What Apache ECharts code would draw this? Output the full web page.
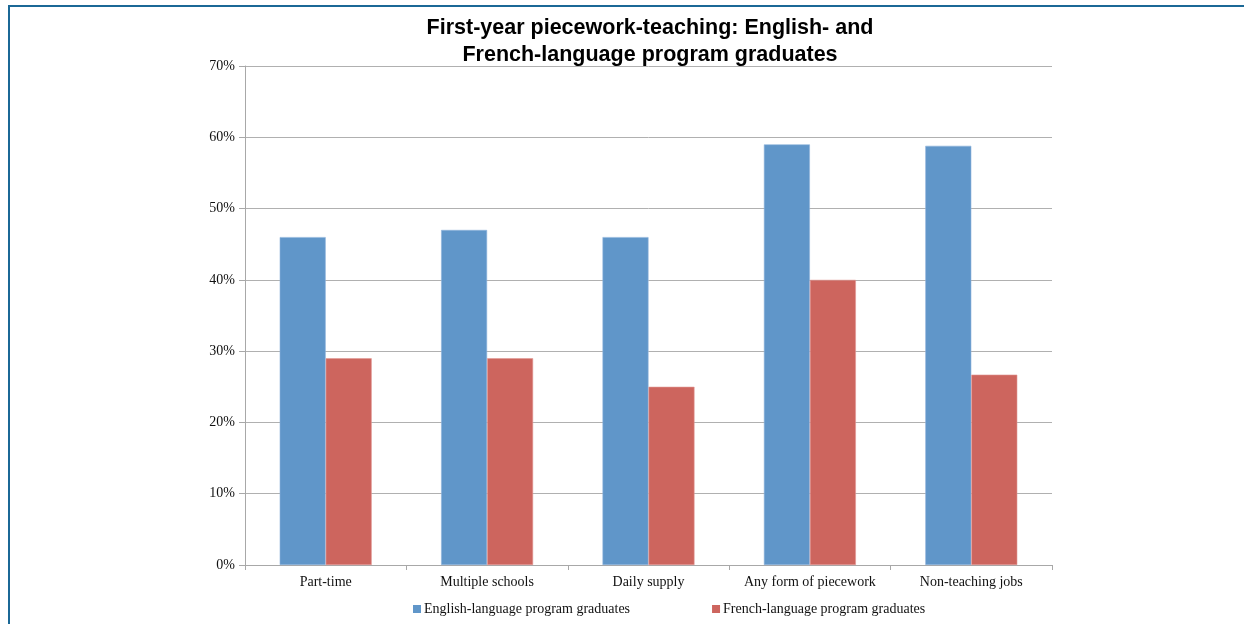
<!DOCTYPE html>
<html>
<head>
<meta charset="utf-8">
<script src="https://cdn.jsdelivr.net/npm/echarts@6/dist/echarts.min.js"></script>
<style>
  html, body { margin: 0; padding: 0; background: #fff; }
  #frame { position: absolute; left: 8px; top: 5px; width: 1300px; height: 700px;
           border-left: 2px solid #1b6896; border-top: 2px solid #1b6896; }
  #chart { position: absolute; left: 0; top: 0; width: 1244px; height: 624px; }
</style>
</head>
<body>
<div id="frame"></div>
<div id="chart"></div>
<script>
// Share of first-year teachers in each form of piecework, by program language
const categories = ['Part-time', 'Multiple schools', 'Daily supply', 'Any form of piecework', 'Non-teaching jobs'];
const englishGrads = [46, 47, 46, 59, 58.8];
const frenchGrads = [29, 29, 25, 40, 26.7];
const seriesNames = ['English-language program graduates', 'French-language program graduates'];
const yTicks = { min: 0, max: 70, interval: 10 };

const serif = '"Liberation Serif", "DejaVu Serif", serif';
const chart = echarts.init(document.getElementById('chart'));

chart.setOption({
  animation: false,
  backgroundColor: 'transparent',
  title: {
    text: 'First-year piecework-teaching: English- and\nFrench-language program graduates',
    left: 645, textAlign: 'center', top: 10,
    textStyle: { fontFamily: '"Liberation Sans", Arial, sans-serif', fontWeight: 'bold',
                 fontSize: 21.5, lineHeight: 27, color: '#000' }
  },
  legend: {
    bottom: 3, left: 408, itemGap: 82,
    icon: 'rect', itemWidth: 8, itemHeight: 8,
    itemStyle: { borderWidth: 0 },
    textStyle: { fontFamily: serif, fontSize: 14, color: '#111', padding: [0, 0, 0, -2] },
    data: seriesNames
  },
  grid: { left: 245, right: 192, top: 66, bottom: 59, containLabel: false },
  xAxis: {
    type: 'category', data: categories,
    axisLine: { lineStyle: { color: '#a8a8a8', width: 1 } },
    axisTick: { show: true, interval: 0, length: 5, lineStyle: { color: '#a8a8a8' } },
    axisLabel: { interval: 0, hideOverlap: false, fontFamily: serif, fontSize: 14,
                 color: '#111', margin: 10 }
  },
  yAxis: {
    type: 'value', min: yTicks.min, max: yTicks.max, interval: yTicks.interval,
    axisLine: { show: true, lineStyle: { color: '#a8a8a8', width: 1 } },
    axisTick: { show: true, length: 6, lineStyle: { color: '#a8a8a8' } },
    axisLabel: { fontFamily: serif, fontSize: 14, color: '#111', margin: 10,
                 formatter: v => v + '%' },
    splitLine: { lineStyle: { color: '#b0b0b0', width: 1 } }
  },
  series: [
    { name: seriesNames[0], type: 'bar', data: englishGrads, barGap: '0%', barCategoryGap: '43%',
      itemStyle: { color: '#6096c9', borderColor: '#8fb4dc', borderWidth: 0.6 } },
    { name: seriesNames[1], type: 'bar', data: frenchGrads,
      itemStyle: { color: '#cd655e', borderColor: '#e29995', borderWidth: 0.6 } }
  ]
});
</script>
</body>
</html>
